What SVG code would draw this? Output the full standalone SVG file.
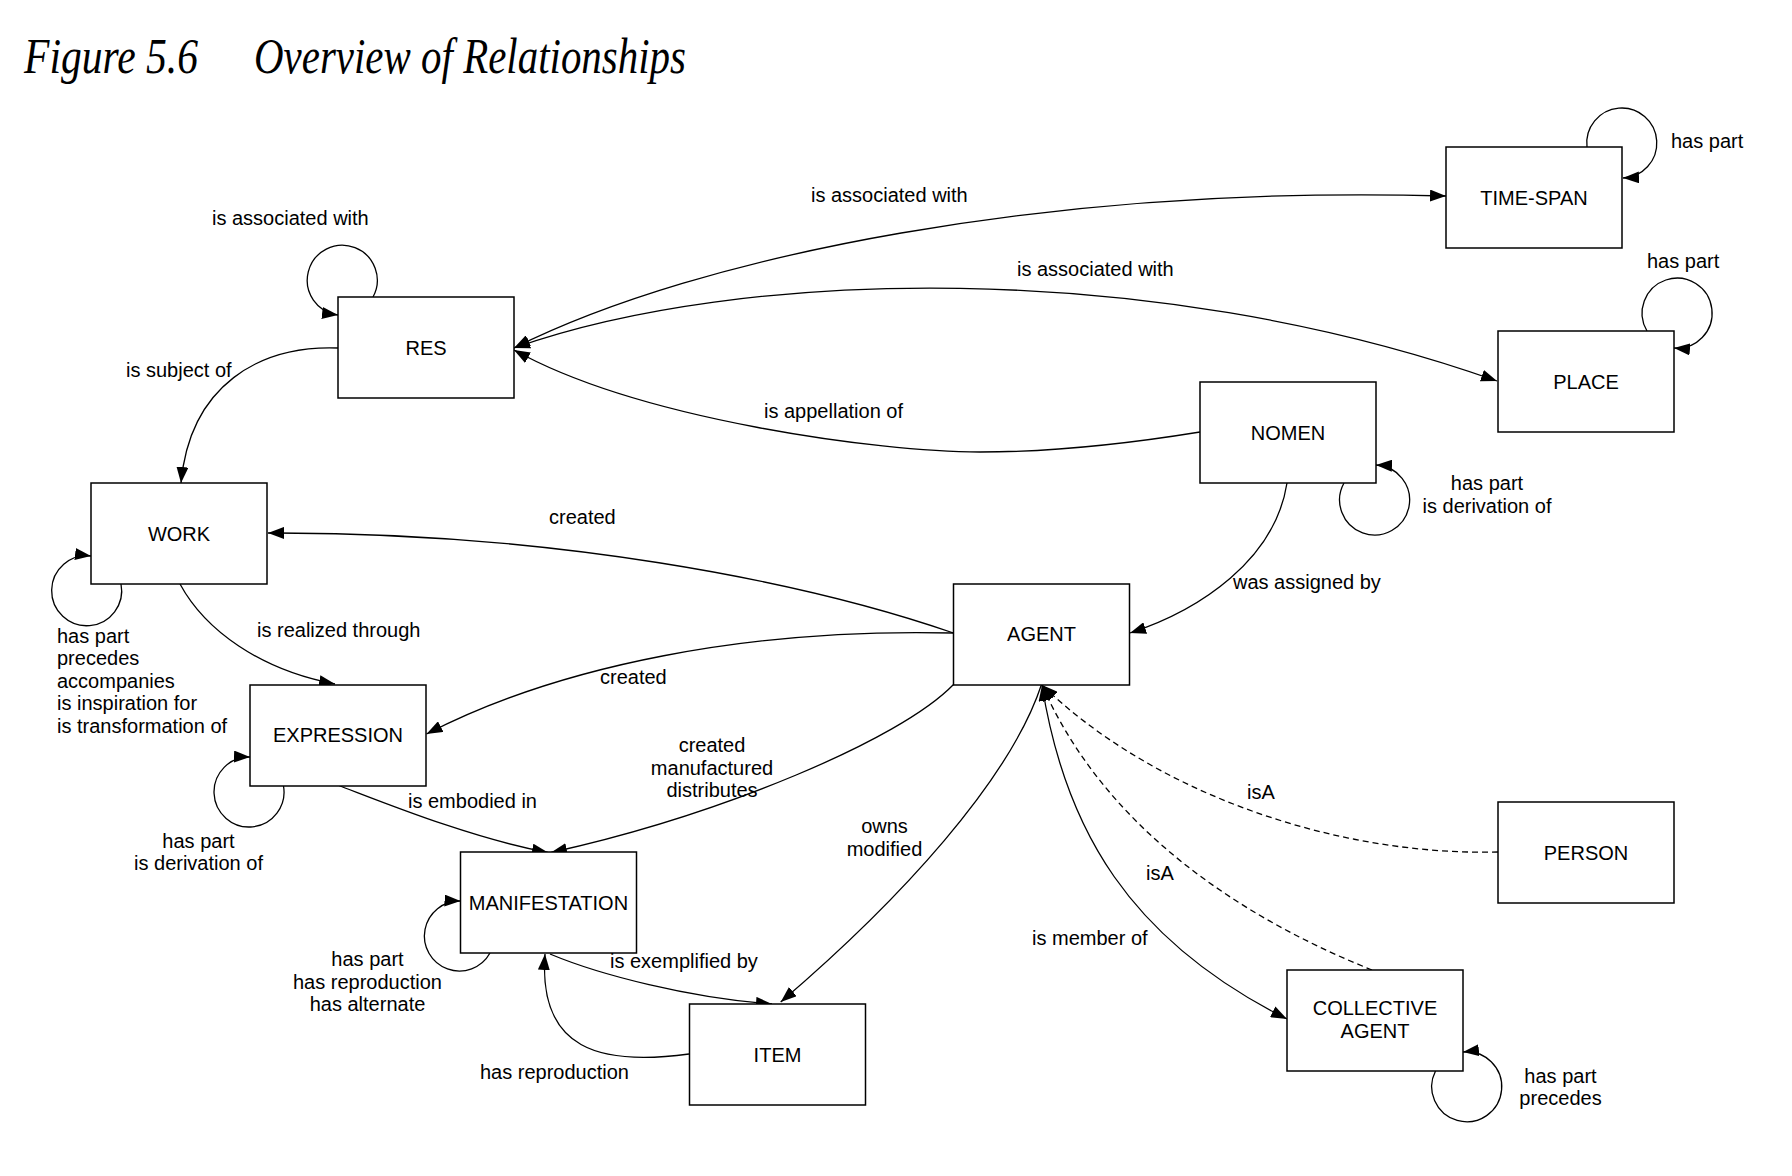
<svg xmlns="http://www.w3.org/2000/svg" width="1792" height="1176" viewBox="0 0 1792 1176">
<style>
.box{fill:#fff;stroke:#000;stroke-width:1.5}
.nl{font-family:"Liberation Sans",Arial,sans-serif;font-size:20px;fill:#000;text-anchor:middle}
.lb{font-family:"Liberation Sans",Arial,sans-serif;font-size:20px;fill:#000}
.mid{text-anchor:middle}
.c{fill:none;stroke:#000;stroke-width:1.3}
.d{stroke-dasharray:6 4}
.t{font-family:"Liberation Serif","Times New Roman",serif;font-style:italic;font-size:50px;fill:#000}
</style>
<defs>
<marker id="ar" viewBox="0 0 16 12" refX="16" refY="6" markerWidth="16" markerHeight="12" markerUnits="userSpaceOnUse" orient="auto-start-reverse">
<path d="M0,0 L16,6 L0,12 Z" fill="#000"/>
</marker>
</defs>
<rect width="1792" height="1176" fill="#fff"/>
<g id="title">
<text class="t" x="24" y="73" textLength="174" lengthAdjust="spacingAndGlyphs">Figure 5.6</text>
<text class="t" x="254" y="73" textLength="432" lengthAdjust="spacingAndGlyphs">Overview of Relationships</text>
</g>
<g id="connectors">
<path class="c" marker-end="url(#ar)" d="M373,297 A35,35 0 1 0 338,315"/>
<path class="c" marker-end="url(#ar)" d="M1587,147 A35,35 0 1 1 1623,178"/>
<path class="c" marker-end="url(#ar)" d="M1647,331 A35,35 0 1 1 1674,348"/>
<path class="c" marker-end="url(#ar)" d="M1344,483 A35,35 0 1 0 1376,465"/>
<path class="c" marker-end="url(#ar)" d="M121,584 A35,35 0 1 1 91,556"/>
<path class="c" marker-end="url(#ar)" d="M283.5,786 A35,35 0 1 1 250,757"/>
<path class="c" marker-end="url(#ar)" d="M490,953 A35,35 0 1 1 460.5,901"/>
<path class="c" marker-end="url(#ar)" d="M1435.5,1071 A35,35 0 1 0 1463,1052"/>
<path class="c" marker-start="url(#ar)" marker-end="url(#ar)" d="M514,348 C700,255 1050,185 1446,196"/>
<path class="c" marker-start="url(#ar)" marker-end="url(#ar)" d="M514,348 C740,268 1150,258 1497,381"/>
<path class="c" marker-end="url(#ar)" d="M1200,432 C1120,445 1040,452 980,452 C880,452 640,420 514,350"/>
<path class="c" marker-end="url(#ar)" d="M338,348 C260,345 190,385 181,483"/>
<path class="c" marker-end="url(#ar)" d="M180,584 C205,630 260,670 335,684"/>
<path class="c" marker-end="url(#ar)" d="M953.5,633 C800,580 550,532 268,533"/>
<path class="c" marker-end="url(#ar)" d="M953.5,633 C750,628 560,665 426.5,734"/>
<path class="c" marker-end="url(#ar)" d="M953.5,684.5 C900,740 720,815 551,852.5"/>
<path class="c" marker-end="url(#ar)" d="M337.5,785 C380,801 470,838 548,852.5"/>
<path class="c" marker-end="url(#ar)" d="M550,954 C600,975 690,998 772,1004"/>
<path class="c" marker-end="url(#ar)" d="M689,1054 C600,1066 538,1050 545,954"/>
<path class="c" marker-end="url(#ar)" d="M1041.5,684.5 C1010,780 900,900 780.7,1002"/>
<path class="c" marker-end="url(#ar)" d="M1287,483 C1275,560 1200,610 1130,633"/>
<path class="c d" marker-end="url(#ar)" d="M1498,852 C1330,856 1150,790 1042,685"/>
<path class="c d" marker-end="url(#ar)" d="M1372,970 C1260,925 1110,840 1042,685"/>
<path class="c" marker-start="url(#ar)" marker-end="url(#ar)" d="M1042,685 C1065,830 1130,940 1287,1019"/>
</g>
<g id="labels">
<text class="lb" x="212" y="225">is associated with</text>
<text class="lb" x="126" y="377">is subject of</text>
<text class="lb" x="811" y="202">is associated with</text>
<text class="lb" x="1017" y="276">is associated with</text>
<text class="lb" x="1671" y="148">has part</text>
<text class="lb" x="1647" y="268">has part</text>
<text class="lb" x="764" y="418">is appellation of</text>
<text class="lb mid" x="1487" y="490">has part</text>
<text class="lb mid" x="1487" y="513">is derivation of</text>
<text class="lb" x="549" y="524">created</text>
<text class="lb" x="1233" y="589">was assigned by</text>
<text class="lb" x="57" y="642.5">has part</text>
<text class="lb" x="57" y="665">precedes</text>
<text class="lb" x="57" y="687.5">accompanies</text>
<text class="lb" x="57" y="710">is inspiration for</text>
<text class="lb" x="57" y="733">is transformation of</text>
<text class="lb" x="257" y="637">is realized through</text>
<text class="lb" x="600" y="684">created</text>
<text class="lb mid" x="198.5" y="848">has part</text>
<text class="lb mid" x="198.5" y="870">is derivation of</text>
<text class="lb mid" x="712" y="752">created</text>
<text class="lb mid" x="712" y="774.5">manufactured</text>
<text class="lb mid" x="712" y="797">distributes</text>
<text class="lb" x="408" y="808">is embodied in</text>
<text class="lb mid" x="884.5" y="833">owns</text>
<text class="lb mid" x="884.5" y="855.5">modified</text>
<text class="lb" x="1247" y="798.5">isA</text>
<text class="lb" x="1146" y="879.5">isA</text>
<text class="lb" x="1032" y="945">is member of</text>
<text class="lb mid" x="367.5" y="966">has part</text>
<text class="lb mid" x="367.5" y="988.5">has reproduction</text>
<text class="lb mid" x="367.5" y="1011">has alternate</text>
<text class="lb" x="610" y="968">is exemplified by</text>
<text class="lb" x="480" y="1079">has reproduction</text>
<text class="lb mid" x="1560.5" y="1082.5">has part</text>
<text class="lb mid" x="1560.5" y="1104.5">precedes</text>
</g>
<g id="node-res"><rect class="box" x="338" y="297" width="176" height="101"/><text class="nl" x="426" y="354.5">RES</text></g>
<g id="node-work"><rect class="box" x="91" y="483" width="176" height="101"/><text class="nl" x="179" y="540.5">WORK</text></g>
<g id="node-timespan"><rect class="box" x="1446" y="147" width="176" height="101"/><text class="nl" x="1534" y="204.5">TIME-SPAN</text></g>
<g id="node-place"><rect class="box" x="1498" y="331" width="176" height="101"/><text class="nl" x="1586" y="388.5">PLACE</text></g>
<g id="node-nomen"><rect class="box" x="1200" y="382" width="176" height="101"/><text class="nl" x="1288" y="439.5">NOMEN</text></g>
<g id="node-agent"><rect class="box" x="953.5" y="584" width="176" height="101"/><text class="nl" x="1041.5" y="641">AGENT</text></g>
<g id="node-expression"><rect class="box" x="250" y="685" width="176" height="101"/><text class="nl" x="338" y="742">EXPRESSION</text></g>
<g id="node-manifestation"><rect class="box" x="460.5" y="852" width="176" height="101"/><text class="nl" x="548.5" y="909.5">MANIFESTATION</text></g>
<g id="node-item"><rect class="box" x="689.5" y="1004" width="176" height="101"/><text class="nl" x="777.5" y="1061.5">ITEM</text></g>
<g id="node-person"><rect class="box" x="1498" y="802" width="176" height="101"/><text class="nl" x="1586" y="859.5">PERSON</text></g>
<g id="node-collective"><rect class="box" x="1287" y="970" width="176" height="101"/><text class="nl" x="1375" y="1015">COLLECTIVE</text><text class="nl" x="1375" y="1038">AGENT</text></g>
</svg>
